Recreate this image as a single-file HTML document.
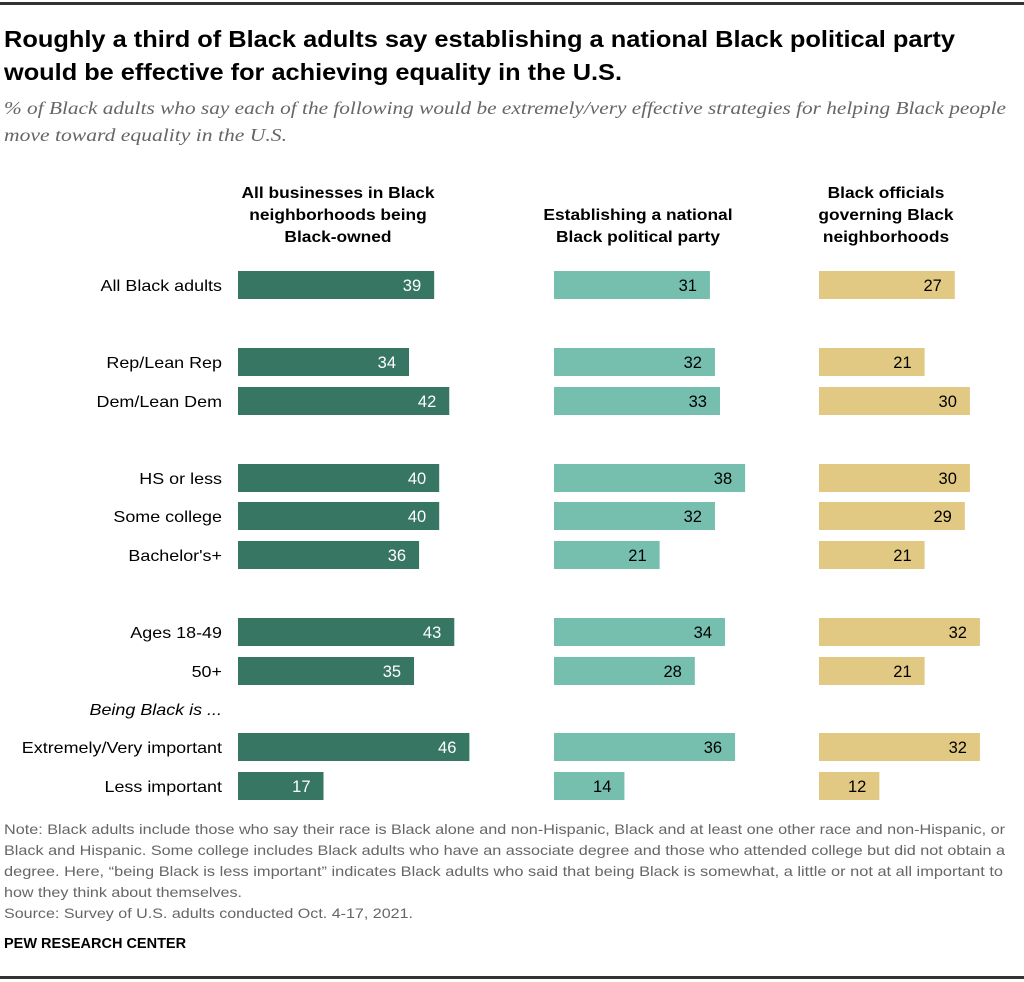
<!DOCTYPE html>
<html><head><meta charset="utf-8"><style>
html,body{margin:0;padding:0;background:#fff;}
svg{display:block;}
text{font-family:"Liberation Sans",sans-serif;}
</style></head><body>
<svg id="chart" width="1024" height="982" viewBox="0 0 1024 982" xmlns="http://www.w3.org/2000/svg">
<rect x="0" y="2" width="1024" height="3" fill="#333"/>
<g font-weight="bold" font-size="23" fill="#000">
<text x="4" y="47" textLength="951" lengthAdjust="spacingAndGlyphs">Roughly a third of Black adults say establishing a national Black political party</text>
<text x="4" y="80" textLength="618" lengthAdjust="spacingAndGlyphs">would be effective for achieving equality in the U.S.</text>
</g>
<g font-style="italic" font-size="17.5" fill="#666">
<text x="4" y="114" style="font-family:'Liberation Serif',serif" textLength="1002" lengthAdjust="spacingAndGlyphs">% of Black adults who say each of the following would be extremely/very effective strategies for helping Black people</text>
<text x="4" y="141" style="font-family:'Liberation Serif',serif" textLength="283" lengthAdjust="spacingAndGlyphs">move toward equality in the U.S.</text>
</g>
<g id="headers" font-weight="bold" font-size="15.5" fill="#000" text-anchor="middle"></g>
<g id="labels" font-size="16" fill="#000" text-anchor="end"></g>
<g id="bars"></g>
<g font-size="14" fill="#666">
<text x="4" y="834" textLength="1001" lengthAdjust="spacingAndGlyphs">Note: Black adults include those who say their race is Black alone and non-Hispanic, Black and at least one other race and non-Hispanic, or</text>
<text x="4" y="855" textLength="1001" lengthAdjust="spacingAndGlyphs">Black and Hispanic. Some college includes Black adults who have an associate degree and those who attended college but did not obtain a</text>
<text x="4" y="876" textLength="999" lengthAdjust="spacingAndGlyphs">degree. Here, “being Black is less important” indicates Black adults who said that being Black is somewhat, a little or not at all important to</text>
<text x="4" y="897" textLength="238" lengthAdjust="spacingAndGlyphs">how they think about themselves.</text>
<text x="4" y="918" textLength="409" lengthAdjust="spacingAndGlyphs">Source: Survey of U.S. adults conducted Oct. 4-17, 2021.</text>
</g>
<text x="4" y="948" font-size="14.5" font-weight="bold" fill="#000">PEW RESEARCH CENTER</text>
<rect x="0" y="976" width="1024" height="3" fill="#333"/>
</svg>
<script>
const categories = ["All Black adults","Rep/Lean Rep","Dem/Lean Dem","HS or less","Some college","Bachelor's+","Ages 18-49","50+","Extremely/Very important","Less important"];
const businessValues = [39,34,42,40,40,36,43,35,46,17];
const partyValues = [31,32,33,38,32,21,34,28,36,14];
const officialsValues = [27,21,30,30,29,21,32,21,32,12];
const panelTitles = [["All businesses in Black","neighborhoods being","Black-owned"],["Establishing a national","Black political party"],["Black officials","governing Black","neighborhoods"]];
const rowCenters = [285,362,401,478,516,555,632,671,747,786];

const NS = "http://www.w3.org/2000/svg";
const scale = 5.03, barH = 28, widen = 1.12;
const panels = [
  {x0:238, vals:businessValues, fill:"#367662", txt:"#fff", hx:338},
  {x0:554, vals:partyValues, fill:"#76bfae", txt:"#000", hx:638},
  {x0:819, vals:officialsValues, fill:"#e2c983", txt:"#000", hx:886}
];
function xLen(v){return v*scale;}
function stretch(t){
  const w = t.getComputedTextLength();
  t.setAttribute('textLength', (w*widen).toFixed(1));
  t.setAttribute('lengthAdjust','spacingAndGlyphs');
}
const headers = document.getElementById('headers');
panels.forEach((p,i)=>{
  const lines = panelTitles[i];
  const bottom = 242;
  lines.forEach((ln,j)=>{
    const t = document.createElementNS(NS,'text');
    t.setAttribute('x',p.hx);
    t.setAttribute('y',bottom-(lines.length-1-j)*22);
    t.textContent = ln;
    
    
    headers.appendChild(t);
    stretch(t);
  });
});
const labels = document.getElementById('labels');
categories.forEach((c,i)=>{
  const t = document.createElementNS(NS,'text');
  t.setAttribute('x',222);
  t.setAttribute('y',rowCenters[i]+6);
  t.textContent = c;
  
  
  labels.appendChild(t);
  stretch(t);
});
const gl = document.createElementNS(NS,'text');
gl.setAttribute('x',222); gl.setAttribute('y',715);
gl.setAttribute('font-style','italic');
gl.textContent = "Being Black is ...";


labels.appendChild(gl);
stretch(gl);

const bars = document.getElementById('bars');
panels.forEach((p,pi)=>{
  p.vals.forEach((v,i)=>{
    const r = document.createElementNS(NS,'rect');
    r.setAttribute('x',p.x0);
    r.setAttribute('y',rowCenters[i]-barH/2);
    r.setAttribute('width',xLen(v));
    r.setAttribute('height',barH);
    r.setAttribute('fill',p.fill);
    
    
    bars.appendChild(r);
    const t = document.createElementNS(NS,'text');
    t.setAttribute('x',p.x0+xLen(v)-13);
    t.setAttribute('y',rowCenters[i]+6);
    t.setAttribute('text-anchor','end');
    t.setAttribute('font-size','16.5');
    t.setAttribute('fill',p.txt);
    t.textContent = v;
    
    
    bars.appendChild(t);
  });
});
</script>
</body></html>
